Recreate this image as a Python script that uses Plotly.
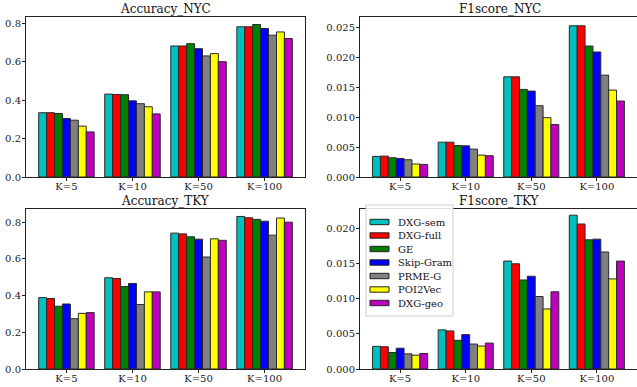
import plotly.graph_objects as go

categories = ["K=5", "K=10", "K=50", "K=100"]
methods = ["DXG-sem", "DXG-full", "GE", "Skip-Gram", "PRME-G", "POI2Vec", "DXG-geo"]
colors = ["#00BFBF", "#FF0000", "#008000", "#0000FF", "#808080", "#FFFF00", "#BF00BF"]

acc_nyc = {
    "DXG-sem":   [0.335, 0.432, 0.683, 0.783],
    "DXG-full":  [0.335, 0.430, 0.683, 0.783],
    "GE":        [0.331, 0.429, 0.695, 0.795],
    "Skip-Gram": [0.305, 0.397, 0.669, 0.774],
    "PRME-G":    [0.296, 0.382, 0.631, 0.739],
    "POI2Vec":   [0.265, 0.366, 0.643, 0.756],
    "DXG-geo":   [0.235, 0.329, 0.601, 0.722],
}
f1_nyc = {
    "DXG-sem":   [0.00345, 0.00583, 0.01678, 0.02533],
    "DXG-full":  [0.00350, 0.00583, 0.01678, 0.02533],
    "GE":        [0.00322, 0.00528, 0.01467, 0.02194],
    "Skip-Gram": [0.00311, 0.00522, 0.01439, 0.02094],
    "PRME-G":    [0.00289, 0.00467, 0.01194, 0.01706],
    "POI2Vec":   [0.00217, 0.00367, 0.00994, 0.01456],
    "DXG-geo":   [0.00211, 0.00356, 0.00878, 0.01272],
}
acc_tky = {
    "DXG-sem":   [0.389, 0.497, 0.740, 0.831],
    "DXG-full":  [0.384, 0.493, 0.736, 0.824],
    "GE":        [0.342, 0.449, 0.720, 0.815],
    "Skip-Gram": [0.354, 0.466, 0.707, 0.805],
    "PRME-G":    [0.274, 0.351, 0.610, 0.729],
    "POI2Vec":   [0.303, 0.420, 0.709, 0.822],
    "DXG-geo":   [0.307, 0.420, 0.701, 0.800],
}
f1_tky = {
    "DXG-sem":   [0.00321, 0.00555, 0.01531, 0.02182],
    "DXG-full":  [0.00316, 0.00540, 0.01493, 0.02057],
    "GE":        [0.00234, 0.00407, 0.01263, 0.01833],
    "Skip-Gram": [0.00295, 0.00488, 0.01316, 0.01842],
    "PRME-G":    [0.00215, 0.00354, 0.01029, 0.01660],
    "POI2Vec":   [0.00196, 0.00325, 0.00852, 0.01278],
    "DXG-geo":   [0.00220, 0.00368, 0.01096, 0.01531],
}

panels = [
    ("Accuracy_NYC", acc_nyc, "x", "y", [0, 0.834], [0.0, 0.2, 0.4, 0.6, 0.8], ".1f"),
    ("F1score_NYC", f1_nyc, "x2", "y2", [0, 0.0268], [0, 0.005, 0.010, 0.015, 0.020, 0.025], ".3f"),
    ("Accuracy_TKY", acc_tky, "x3", "y3", [0, 0.8715], [0.0, 0.2, 0.4, 0.6, 0.8], ".1f"),
    ("F1score_TKY", f1_tky, "x4", "y4", [0, 0.0227], [0, 0.005, 0.010, 0.015, 0.020], ".3f"),
]

W, H = 637, 387
def px_x(a, b):
    return [a / W, min(b / W, 1.0)]
def px_y(top, bottom):
    return [1 - bottom / H, 1 - top / H]

xdomains = [px_x(26, 305), px_x(360, 637), px_x(26, 305), px_x(360, 637)]
ydomains = [px_y(17, 177), px_y(17, 177), px_y(209, 369), px_y(209, 369)]
title_x = [(26 + 305) / 2, (360 + 639) / 2, (26 + 305) / 2, (360 + 639) / 2]

FONT = "DejaVu Serif"
fig = go.Figure()

for pi, (title, data, xa, ya, yr, tv, fmt) in enumerate(panels):
    for mi, m in enumerate(methods):
        fig.add_trace(go.Bar(
            x=categories, y=data[m], name=m,
            marker=dict(color=colors[mi], line=dict(color="#2a2a2a", width=1)),
            xaxis=xa, yaxis=ya, offsetgroup=str(mi),
            showlegend=False,
        ))
    xkey = "xaxis" if pi == 0 else f"xaxis{pi+1}"
    ykey = "yaxis" if pi == 0 else f"yaxis{pi+1}"
    fig.layout[xkey] = dict(
        domain=xdomains[pi], anchor=ya, range=[-0.612, 3.612], automargin=False,
        showline=True, mirror=True, linecolor="#222", linewidth=1,
        ticks="outside", ticklen=3, tickcolor="#222", showgrid=False,
        ticklabelstandoff=-3,
        tickfont=dict(family=FONT, size=10, color="#222"), type="category",
    )
    fig.layout[ykey] = dict(
        domain=ydomains[pi], anchor=xa, range=yr, automargin=False,
        showline=True, mirror=True, linecolor="#222", linewidth=1,
        ticks="outside", ticklen=3, tickcolor="#222", showgrid=False, zeroline=False,
        tickvals=tv, tickformat=fmt, ticklabelstandoff=-1,
        tickfont=dict(family=FONT, size=10, color="#222"),
    )
    fig.add_annotation(
        text=title, xref="paper", yref="paper",
        x=title_x[pi] / W, y=ydomains[pi][1], yanchor="bottom", xanchor="center",
        yshift=-1, showarrow=False, font=dict(family=FONT, size=12, color="#111"),
    )

# Legend drawn inside the F1score_TKY panel (upper-left), matplotlib style
leg_left, leg_right, leg_top, leg_bottom = 366, 453, 205, 316
fig.add_shape(type="rect", xref="paper", yref="paper",
              x0=leg_left / W, x1=leg_right / W, y0=1 - leg_bottom / H, y1=1 - leg_top / H,
              line=dict(color="#cccccc", width=1), fillcolor="rgba(255,255,255,0.85)",
              layer="above")
item_y0, item_step = 222, 13.5
for mi, m in enumerate(methods):
    cy = item_y0 + mi * item_step
    fig.add_shape(type="rect", xref="paper", yref="paper",
                  x0=370 / W, x1=389 / W, y0=1 - (cy + 2.7) / H, y1=1 - (cy - 2.7) / H,
                  line=dict(color="#222", width=1), fillcolor=colors[mi], layer="above")
    fig.add_annotation(text=m, xref="paper", yref="paper", x=396 / W, y=1 - cy / H,
                       xanchor="left", yanchor="middle", showarrow=False,
                       font=dict(family=FONT, size=10, color="#111"))

fig.update_layout(
    width=W, height=H, margin=dict(l=0, r=0, t=0, b=0),
    paper_bgcolor="white", plot_bgcolor="white",
    barmode="group", bargap=0.16, bargroupgap=0,
    showlegend=False,
)

fig.write_html("out.html", config={"displayModeBar": False},
               post_script="document.body.style.margin='0';document.body.style.overflow='hidden';")
